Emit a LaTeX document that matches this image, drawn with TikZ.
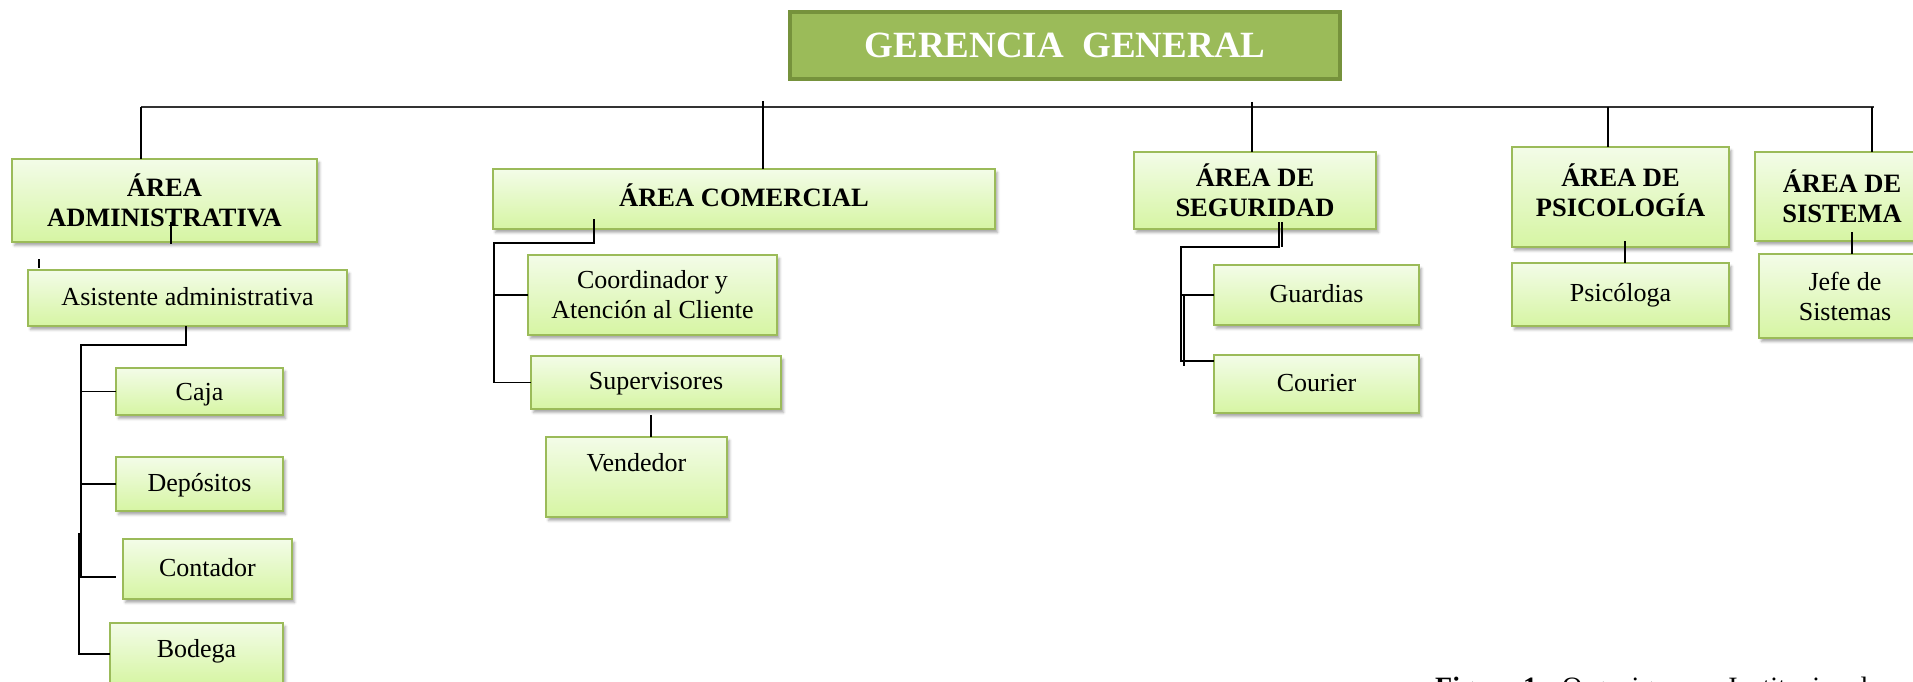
\documentclass[tikz,border=0pt]{standalone}
\usepackage{fontspec}
\setmainfont{Liberation Serif}
\usetikzlibrary{shadows.blur}
\definecolor{gfill}{HTML}{9BBB59}
\definecolor{gborder}{HTML}{76923C}
\definecolor{btop}{HTML}{F3FCE8}
\definecolor{bbot}{HTML}{D6F5A3}
\definecolor{bborder}{HTML}{9BBB59}
\tikzset{
  orgbox/.style={draw=bborder, line width=1.8pt, top color=btop, bottom color=bbot,
    blur shadow={shadow xshift=2.5pt, shadow yshift=-3.5pt, shadow blur radius=2.5pt, shadow opacity=35},
    inner sep=0pt, outer sep=0pt, align=center, anchor=north west,
    font=\fontsize{26}{30}\selectfont},
  areabox/.style={orgbox, font=\fontsize{26.5}{30}\selectfont\bfseries},
  oneline/.style={text height=19pt, text depth=5pt},
  topbox/.style={draw=gborder, line width=4pt, fill=gfill, text=white, inner sep=0pt, outer sep=0pt,
    anchor=north west, font=\fontsize{37}{40}\selectfont\bfseries},
  link/.style={draw=black, line width=1.6pt},
  bus/.style={draw=black!80, line width=1.1pt},
}
\begin{document}
\begin{tikzpicture}[x=1pt,y=-1pt]
\useasboundingbox (0,0) rectangle (1913,682);
\clip (0,0) rectangle (1913,682);

% top
\node[topbox, minimum width=550pt, minimum height=67pt] (ger) at (790,12) {GERENCIA\ \ GENERAL};

% areas
\node[areabox, minimum width=305pt, minimum height=83pt] (adm) at (12,159) {ÁREA\\ADMINISTRATIVA};
\node[areabox, oneline, minimum width=502pt, minimum height=60pt] (com) at (493,169) {ÁREA COMERCIAL};
\node[areabox, minimum width=242pt, minimum height=77pt] (seg) at (1134,152) {ÁREA DE\\SEGURIDAD};
\node[areabox, minimum width=217pt, minimum height=100pt] (psi) at (1512,147) {ÁREA DE\\PSICOLOGÍA\\[-16pt]\mbox{}};
\node[areabox, minimum width=174pt, minimum height=89pt] (sis) at (1755,152) {ÁREA DE\\SISTEMA};

% children
\node[orgbox, oneline, minimum width=319pt, minimum height=56pt] (asis) at (28,270) {Asistente administrativa};
\node[orgbox, text height=21pt, text depth=4pt, minimum width=167pt, minimum height=47pt] (caja) at (116,368) {Caja};
\node[orgbox, oneline, minimum width=167pt, minimum height=54pt] (dep) at (116,457) {Depósitos};
\node[orgbox, oneline, minimum width=169pt, minimum height=60pt] (cont) at (123,539) {Contador};
\node[orgbox, minimum width=173pt, minimum height=62pt] (bod) at (110,623) {Bodega\\[-18pt]\mbox{}};

\node[orgbox, minimum width=249pt, minimum height=80pt] (coord) at (528,255) {Coordinador y\\Atención al Cliente};
\node[orgbox, oneline, minimum width=250pt, minimum height=53pt] (sup) at (531,356) {Supervisores};
\node[orgbox, minimum width=181pt, minimum height=80pt] (vend) at (546,437) {Vendedor\\\mbox{}};

\node[orgbox, oneline, minimum width=205pt, minimum height=60pt] (guard) at (1214,265) {Guardias};
\node[orgbox, oneline, minimum width=205pt, minimum height=58pt] (cour) at (1214,355) {Courier};

\node[orgbox, oneline, minimum width=217pt, minimum height=63pt] (psic) at (1512,263) {Psicóloga};
\node[orgbox, minimum width=172pt, minimum height=84pt] (jefe) at (1759,254) {Jefe de\\Sistemas};

% caption
\node[anchor=base west, inner sep=0pt, font=\fontsize{28}{32}\selectfont] (cap) at (1435,696)
  {{\bfseries Figura 1.}\hspace{18pt}Organigrama\hspace{19pt}Institucional};

% bus and drops
\coordinate (busL) at (141,107);
\coordinate (busR) at (1874,107);
\draw[bus] (busL) -- (busR);
\draw[link] (busL) -- (busL |- adm.north);
\coordinate (comT) at (763,101);
\draw[link] (comT) -- (comT |- com.north);
\coordinate (segT) at (1252,102);
\draw[link] (segT) -- (segT |- seg.north);
\coordinate (psiT) at (1608,107);
\draw[link] (psiT) -- (psiT |- psi.north);
\coordinate (sisT) at (1872,107);
\draw[link] (sisT) -- (sisT |- sis.north);

% administrativa
\coordinate (admS) at (171,222);
\draw[link] (admS) -- ++(0,22);
\coordinate (tick) at (39,259);
\draw[link] (tick) -- ++(0,9);
\coordinate (asisOut) at (186,326);
\coordinate (asisTrunk) at (81,345);
\coordinate (contJ) at (81,577);
\draw[link] (asisOut) -- (asisOut |- asisTrunk) -- (asisTrunk) -- (contJ) -- ++(35,0);
\draw[link] (asisTrunk |- caja.west) -- (caja.west);
\draw[link] (asisTrunk |- dep.west) -- (dep.west);
\coordinate (bodT) at (79,533);
\draw[link] (bodT) -- (bodT |- bod.west) -- (bod.west);

% comercial
\coordinate (comOut) at (594,219);
\coordinate (comTrunk) at (494,243);
\draw[link] (comOut) -- (comOut |- comTrunk) -- (comTrunk) -- (comTrunk |- sup.west) -- (sup.west);
\draw[link] (comTrunk |- coord.west) -- (coord.west);
\coordinate (supOut) at (651,415);
\draw[link] (supOut) -- (supOut |- vend.north);

% seguridad
\coordinate (segOut) at (1279,222);
\coordinate (segOutB) at (1282,222);
\coordinate (segTrunk) at (1181,247);
\coordinate (courJ) at (1181,361);
\draw[link] (segOut) -- (segOut |- segTrunk) -- (segTrunk) -- (courJ) -- (courJ -| cour.west);
\draw[link] (segOutB) -- (segOutB |- segTrunk);
\coordinate (segTrunkB) at (1184,296);
\draw[link] (segTrunkB) -- ++(0,70);
\draw[link] (segTrunk |- guard.west) -- (guard.west);

% psicologia, sistema
\coordinate (psiOut) at (1625,241);
\draw[link] (psiOut) -- (psiOut |- psic.north);
\coordinate (sisOut) at (1852,232);
\draw[link] (sisOut) -- (sisOut |- jefe.north);
\end{tikzpicture}
\end{document}
